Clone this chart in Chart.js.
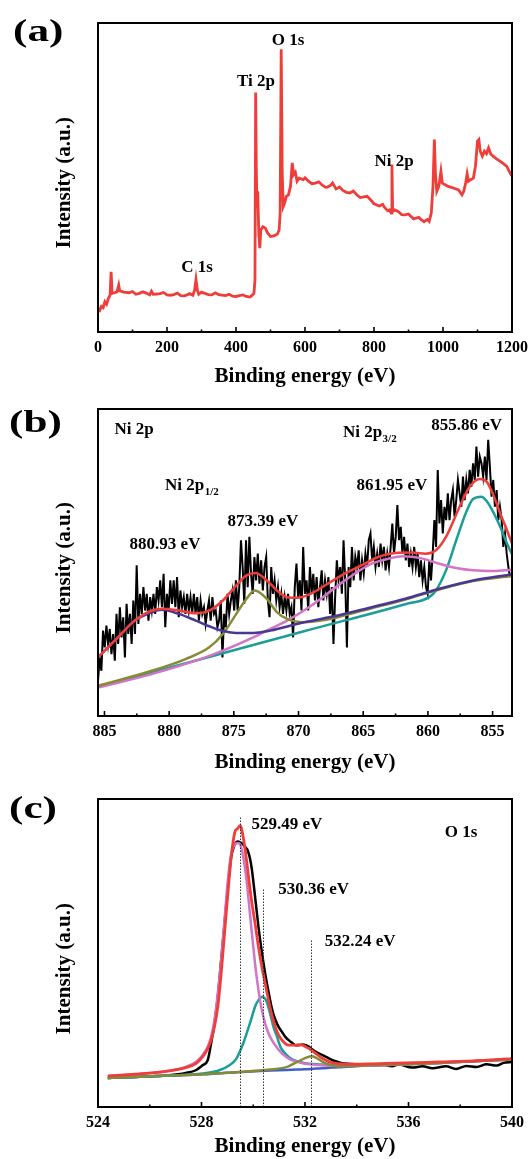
<!DOCTYPE html>
<html>
<head>
<meta charset="utf-8">
<script src="https://cdn.jsdelivr.net/npm/chart.js@4.4.0/dist/chart.umd.min.js"></script>
<style>
  html, body { margin: 0; padding: 0; background: #fff; }
  body { width: 531px; height: 1159px; position: relative; overflow: hidden; }
  canvas { position: absolute; left: 0; display: block; }
</style>
</head>
<body>
<canvas id="chartA" width="531" height="395" style="top:0px"></canvas>
<canvas id="chartB" width="531" height="390" style="top:395px"></canvas>
<canvas id="chartC" width="531" height="374" style="top:785px"></canvas>
<script>
// ---------- (a) survey spectrum ----------
const surveyEnergy = [0,5,10,15,20,25,30,35,38,41,48,55,60,63,75,90,100,110,120,130,140,150,155,160,170,180,190,200,210,220,230,240,250,260,265,275,280,284,288,292,300,310,320,330,340,350,360,370,380,390,400,410,420,430,440,445,452,455,457,459,461,463,466,469,472,478,485,492,500,510,520,525,528,531,534,537,541,546,552,558,563,567,572,577,583,595,600,610,620,630,640,650,660,665,675,680,690,700,710,720,730,740,750,760,770,780,790,800,810,815,825,830,840,845,850,852,854,860,870,875,880,890,900,905,915,920,930,935,945,950,955,960,966,971,975,978,982,988,994,998,1005,1015,1030,1045,1055,1060,1066,1070,1074,1080,1088,1094,1100,1104,1108,1114,1120,1126,1132,1138,1145,1155,1165,1175,1185,1192,1196,1200];
const surveyIntensity = [7.6,7.0,8.3,7.9,9.8,9.0,10.8,11.9,19.5,12.5,12.7,13.0,15.2,13.3,12.9,12.7,13.1,12.2,12.5,13.0,12.6,12.0,13.2,12.2,12.3,12.4,12.8,12.0,11.9,12.1,12.6,11.8,11.7,12.1,12.4,11.9,13.5,17.0,13.5,12.2,12.9,12.5,12.1,12.0,12.7,12.1,11.9,11.8,12.2,11.6,11.5,11.8,12.0,11.5,11.3,11.7,12.5,16.8,77.5,51.5,40.6,45.5,32.0,27.1,33.0,34.1,33.6,32.0,30.9,31.1,31.7,33.0,38.5,91.5,51.5,40.6,41.7,43.9,44.4,47.1,54.7,50.9,51.7,48.8,49.8,49.3,49.9,48.8,48.0,48.2,48.6,47.5,46.8,46.9,47.5,48.2,46.3,46.9,45.8,45.2,45.0,45.6,44.4,43.5,43.7,43.9,42.8,41.5,41.0,40.8,41.3,40.4,39.2,39.5,38.5,54.2,39.0,39.5,39.0,38.5,38.0,37.9,38.2,37.6,36.6,36.8,37.1,36.5,35.7,36.1,36.4,35.8,38.5,47.1,62.3,51.5,45.5,47.1,52.0,48.2,47.7,47.1,46.6,46.0,44.4,45.5,48.4,51.2,48.8,49.3,49.8,53.6,61.8,62.3,58.5,56.9,58.5,57.7,59.6,57.7,56.9,56.0,55.3,54.5,53.6,52.0,51.2,52.0];
const surveyMajorTicks = [0,200,400,600,800,1000,1200];
const surveyMinorTicks = [100,300,500,700,900,1100];

// ---------- (b) Ni 2p ----------
const niEnergy = [
885.50,885.37,885.24,885.11,884.98,884.85,884.72,884.59,884.46,884.33,
884.20,884.07,883.94,883.81,883.68,883.55,883.42,883.29,883.16,883.03,
882.90,882.77,882.64,882.51,882.38,882.25,882.12,881.99,881.86,881.73,
881.60,881.47,881.34,881.21,881.08,880.95,880.82,880.69,880.56,880.43,
880.30,880.17,880.04,879.91,879.78,879.65,879.52,879.39,879.26,879.13,
879.00,878.87,878.74,878.61,878.48,878.35,878.22,878.09,877.96,877.83,
877.70,877.57,877.44,877.31,877.18,877.05,876.92,876.79,876.66,876.53,
876.40,876.27,876.14,876.01,875.88,875.75,875.62,875.49,875.36,875.23,
875.10,874.97,874.84,874.71,874.58,874.45,874.32,874.19,874.06,873.93,
873.80,873.67,873.54,873.41,873.28,873.15,873.02,872.89,872.76,872.63,
872.50,872.37,872.24,872.11,871.98,871.85,871.72,871.59,871.46,871.33,
871.20,871.07,870.94,870.81,870.68,870.55,870.42,870.29,870.16,870.03,
869.90,869.77,869.64,869.51,869.38,869.25,869.12,868.99,868.86,868.73,
868.60,868.47,868.34,868.21,868.08,867.95,867.82,867.69,867.56,867.43,
867.30,867.17,867.04,866.91,866.78,866.65,866.52,866.39,866.26,866.13,
866.00,865.87,865.74,865.61,865.48,865.35,865.22,865.09,864.96,864.83,
864.70,864.57,864.44,864.31,864.18,864.05,863.92,863.79,863.66,863.53,
863.40,863.27,863.14,863.01,862.88,862.75,862.62,862.49,862.36,862.23,
862.10,861.97,861.84,861.71,861.58,861.45,861.32,861.19,861.06,860.93,
860.80,860.67,860.54,860.41,860.28,860.15,860.02,859.89,859.76,859.63,
859.50,859.37,859.24,859.11,858.98,858.85,858.72,858.59,858.46,858.33,
858.20,858.07,857.94,857.81,857.68,857.55,857.42,857.29,857.16,857.03,
856.90,856.77,856.64,856.51,856.38,856.25,856.12,855.99,855.86,855.73,
855.60,855.47,855.34,855.21,855.08,854.95,854.82,854.69,854.56,854.43,
854.30,854.17,854.04,853.91,853.78,853.65];
const niCounts = [
105,175,135,255,205,270,215,260,185,245,
165,305,215,325,235,295,175,335,245,305,
215,345,245,450,275,365,305,385,315,365,
285,355,315,365,305,385,345,405,325,425,
265,365,315,405,335,405,325,415,295,375,
325,355,305,365,315,355,305,365,305,355,
285,345,305,325,275,315,345,285,355,305,
315,265,285,345,175,305,265,365,305,345,
375,315,405,315,385,525,445,335,525,385,
535,425,365,475,405,485,395,465,375,445,
475,345,295,445,365,405,345,385,325,365,
305,355,315,365,305,325,235,385,455,355,
405,315,505,365,405,315,445,365,425,345,
415,325,385,435,345,405,365,415,305,385,
215,355,465,405,445,365,525,405,205,445,
385,505,405,475,445,495,405,465,425,485,
445,525,545,465,505,445,485,445,515,465,
505,435,485,445,505,575,485,535,630,525,
565,485,535,465,515,445,485,445,505,445,
485,415,465,405,445,385,365,465,405,485,
585,505,735,575,645,545,625,585,665,585,
645,675,595,645,705,665,625,715,645,705,
665,735,685,755,705,805,715,775,755,715,
775,705,825,745,655,705,625,675,585,625,
585,505,545,485,445,415];
const niFitEnergy1 = [885.5,877.42,869.58,861.74,859.90,859.38,858.60,857.81,857.03,856.51,855.86,855.46,854.94,854.41,853.89,853.5];
const niFit1 = [87,171,253,334,355,375,435,525,610,648,655,642,608,565,515,483];            // 855.86 eV
const niFitEnergy2 = [885.5,881.34,877.42,875.85,873.50,872.19,870.89,869.58,868.27,866.96,865.66,864.35,863.04,861.94,860.43,859.12,857.81,856.51,854.94,853.5];
const niFit2 = [85,125,172,195,235,260,285,315,350,390,425,455,470,477,470,455,442,435,433,437];   // 861.95 eV
const niFitEnergy3 = [885.5,881.34,878.73,876.90,875.85,874.81,874.02,873.39,872.45,871.67,870.89,869.58,868.27,866.96,864.35,861.74,859.12,856.51,853.5];
const niFit3 = [90,135,170,205,245,305,350,375,350,310,290,280,285,295,322,348,378,403,418];      // 873.39 eV
const niFitEnergy4 = [885.5,883.96,882.65,881.34,880.56,879.25,877.94,876.90,876.11,874.81,873.50,872.19,869.58,866.96,864.35,861.74,859.12,856.51,853.5];
const niFit4 = [175,235,285,310,317,305,285,268,257,248,248,255,280,300,325,350,380,405,423];    // 880.93 eV
const niEnvEnergy = [885.5,883.96,882.65,881.34,880.56,879.25,877.94,876.90,875.85,874.81,874.02,873.32,872.45,871.67,870.89,870.10,869.06,867.75,866.44,865.13,863.83,862.52,861.21,860.17,859.38,858.60,857.55,856.77,855.98,855.46,854.94,854.41,853.89,853.5];
const niEnvelope = [175,235,285,315,320,315,307,315,345,390,420,427,405,375,355,353,365,395,425,450,475,487,488,485,495,535,625,685,708,700,660,605,555,515];
const niMajorTicks = [885,880,875,870,865,860,855];
const niMinorTicks = [882.5,877.5,872.5,867.5,862.5,857.5];

// ---------- (c) O 1s ----------
const oEnergy = [524.38,525.42,526.08,526.73,527.39,527.78,528.04,528.24,528.37,528.50,528.63,528.76,528.89,529.02,529.15,529.28,529.41,529.54,529.67,529.80,529.93,530.07,530.20,530.33,530.46,530.59,530.72,530.85,530.98,531.11,531.24,531.37,531.50,531.63,531.76,531.90,532.03,532.16,532.29,532.42,532.55,532.68,532.81,532.94,533.07,533.27,533.53,533.92,534.58,534.97,535.36,535.62,536.14,536.54,536.93,537.45,537.84,538.24,538.63,539.02,539.41,539.67,540.00];
const oCounts = [87,90,92,95,102,110,125,140,190,250,330,440,550,660,750,785,795,790,780,765,720,630,540,465,400,345,295,262,240,225,210,200,192,185,185,187,185,180,172,165,160,155,150,145,140,135,130,128,124,128,122,127,118,122,116,122,114,123,120,128,124,132,135];
const oEnvEnergy = [524.38,525.42,526.08,526.73,527.39,527.78,528.04,528.24,528.37,528.50,528.63,528.76,528.89,529.02,529.15,529.28,529.41,529.49,529.54,529.67,529.80,529.93,530.07,530.20,530.33,530.46,530.59,530.72,530.85,530.98,531.11,531.24,531.37,531.50,531.63,531.76,531.90,532.03,532.16,532.29,532.42,532.55,532.68,532.81,532.94,533.07,533.27,533.92,534.58,535.88,537.19,538.50,540.00];
const oEnvelope = [93,98,102,108,118,130,150,175,200,240,300,400,520,640,750,820,835,842,835,780,700,620,550,480,420,370,320,275,240,215,200,190,185,185,185,187,185,180,175,168,160,152,145,140,135,132,130,128,129,132,135,138,145];
const oFitEnergy1 = [524.38,525.42,526.08,526.73,527.39,527.78,528.04,528.24,528.37,528.50,528.63,528.76,528.89,529.02,529.15,529.28,529.41,529.50,529.61,529.74,529.87,530.00,530.13,530.26,530.39,530.52,530.65,530.85,531.05,531.24,531.44,531.70,531.96,532.61,533.27,534.58,535.88,537.19,538.50,540.00];
const oFit1 = [92,97,102,108,120,135,155,180,210,260,340,440,560,680,760,785,790,785,750,680,580,480,390,320,270,235,210,185,165,152,142,135,130,125,123,124,128,132,137,142];   // 529.49 eV
const oFitEnergy2 = [524.38,525.42,526.73,528.04,528.69,529.08,529.35,529.61,529.87,530.07,530.20,530.35,530.52,530.65,530.78,530.92,531.05,531.18,531.37,531.57,531.96,532.61,533.27,534.58,535.88,537.19,538.50,540.00];
const oFit2 = [87,90,94,100,110,125,145,190,250,300,320,330,315,280,240,210,180,165,150,140,132,127,124,124,128,132,137,142];   // 530.36 eV
const oFitEnergy3 = [524.38,525.42,526.73,528.04,529.35,530.65,531.31,531.70,531.96,532.24,532.42,532.68,533.01,533.27,534.58,535.88,537.19,538.50,540.00];
const oFit3 = [87,90,94,98,104,112,120,135,145,152,148,135,125,122,125,128,132,137,142];   // 532.24 eV
const oBaseEnergy = [524.38,525.42,526.73,528.04,529.35,530.65,531.31,531.70,531.96,532.24,532.42,532.68,533.01,533.27,534.58,535.88,537.19,538.50,540.00];
const oBaseline = [87,90,94,98,104,109,111,112,113,114,115,116,118,119,125,128,132,137,142];
const oMajorTicks = [524,528,532,536,540];
const oMinorTicks = [526,530,534,538];
const oPeakCenters = [529.49,530.36,532.24];

// ---------- shared drawing helpers ----------
const SERIF = '"Liberation Serif", "Times New Roman", serif';
Chart.defaults.font.family = SERIF;
Chart.defaults.font.weight = 'bold';
Chart.defaults.color = '#000';

const pairs = (xs, ys) => xs.map((x, i) => ({x, y: ys[i]}));

// closed frame, inward tick marks, panel letter, text labels and marker lines
const figurePlugin = {
  id: 'figure',
  afterDatasetsDraw(chart, args, opts) {
    const {ctx, chartArea: a, scales: {x, y}} = chart;
    ctx.save();
    // dotted markers at the fitted peak centres
    (opts.markers || []).forEach(m => {
      const px = Math.round(x.getPixelForValue(m.x)) + 0.5;
      ctx.strokeStyle = '#333';
      ctx.lineWidth = 1;
      ctx.setLineDash([1.5, 1.5]);
      ctx.beginPath();
      ctx.moveTo(px, a.bottom);
      ctx.lineTo(px, y.getPixelForValue(m.top));
      ctx.stroke();
    });
    ctx.setLineDash([]);
    // frame
    ctx.strokeStyle = '#000';
    ctx.lineWidth = 2;
    ctx.strokeRect(a.left, a.top, a.right - a.left, a.bottom - a.top);
    // inward ticks on the energy axis
    ctx.lineWidth = 1.6;
    x.ticks.forEach(t => {
      const px = x.getPixelForValue(t.value);
      const len = opts.major.includes(t.value) ? 5 : 2.5;
      ctx.beginPath();
      ctx.moveTo(px, a.bottom);
      ctx.lineTo(px, a.bottom - len);
      ctx.stroke();
    });
    // peak labels
    ctx.fillStyle = '#000';
    ctx.textBaseline = 'middle';
    (opts.labels || []).forEach(l => {
      const px = x.getPixelForValue(l.x);
      const py = y.getPixelForValue(l.y);
      ctx.font = 'bold 17px ' + SERIF;
      const w = ctx.measureText(l.text).width;
      let sw = 0;
      if (l.sub) {
        ctx.font = 'bold 11px ' + SERIF;
        sw = ctx.measureText(l.sub).width;
        ctx.font = 'bold 17px ' + SERIF;
      }
      const left = l.align === 'left' ? px : px - (w + sw) / 2;
      ctx.textAlign = 'left';
      ctx.fillText(l.text, left, py);
      if (l.sub) {
        ctx.font = 'bold 11px ' + SERIF;
        ctx.fillText(l.sub, left + w + 0.5, py + 6);
      }
    });
    // panel letter
    ctx.translate(opts.panel.x, opts.panel.y);
    ctx.scale(1.2, 0.9);
    ctx.font = 'bold 36px ' + SERIF;
    ctx.textAlign = 'left';
    ctx.textBaseline = 'middle';
    ctx.fillText(opts.panel.text, 0, 0);
    ctx.restore();
  }
};

function buildChart(id, cfg) {
  const allTicks = cfg.major.concat(cfg.minor).sort((p, q) => p - q);
  // trailing spaces nudge the rotated axis title downwards along the frame
  const yTitle = 'Intensity (a.u.)' + '\u2002'.repeat(cfg.yTitleNudge || 0);
  // later datasets are painted over earlier ones
  const datasets = cfg.datasets.map((d, i, all) => Object.assign(d, { order: all.length - i }));
  return new Chart(document.getElementById(id), {
    type: 'line',
    data: { datasets },
    options: {
      responsive: false,
      animation: false,
      events: [],
      layout: { padding: { top: cfg.padTop, right: 19, left: 0, bottom: 0 } },
      elements: { point: { radius: 0 } },
      plugins: {
        legend: { display: false },
        tooltip: { enabled: false },
        figure: { major: cfg.major, labels: cfg.labels, markers: cfg.markers, panel: cfg.panel }
      },
      scales: {
        x: {
          type: 'linear',
          min: cfg.xmin, max: cfg.xmax,
          reverse: !!cfg.reverse,
          grid: { display: false },
          border: { display: false },
          afterBuildTicks: s => { s.ticks = allTicks.map(v => ({ value: v })); },
          afterFit: s => { s.height = cfg.xAxisHeight; },
          ticks: {
            autoSkip: false, maxRotation: 0, padding: -2,
            font: { size: 16, weight: 'bold' },
            callback: v => cfg.major.includes(v) ? String(v) : ''
          },
          title: {
            display: true, text: 'Binding energy (eV)',
            font: { size: 21, weight: 'bold' },
            padding: { top: 0, bottom: cfg.titlePad }
          }
        },
        y: {
          min: 0, max: cfg.ymax,
          grid: { display: false },
          border: { display: false },
          ticks: { display: false },
          afterFit: s => { s.width = 98; },
          title: {
            display: true, text: yTitle,
            font: { size: 21, weight: 'bold' },
            padding: { top: 52, bottom: 0 }
          }
        }
      }
    },
    plugins: [figurePlugin]
  });
}

const line = (data, color, width, smooth) => ({
  data, borderColor: color, borderWidth: width, pointRadius: 0,
  tension: smooth ? 0.4 : 0, cubicInterpolationMode: smooth ? 'monotone' : 'default',
  fill: false
});

const RED = '#ef3d3a', TEAL = '#1a9e97', PINK = '#d474c8', OLIVE = '#878a36', NAVY = '#4a3795', BLUE = '#3d5fc9';

// (a)
buildChart('chartA', {
  xmin: 0, xmax: 1200, ymax: 100, padTop: 23, xAxisHeight: 63, titlePad: 6, yTitleNudge: 1,
  major: surveyMajorTicks, minor: surveyMinorTicks,
  datasets: [line(pairs(surveyEnergy, surveyIntensity), RED, 2.8, false)],
  labels: [
    { text: 'O 1s', x: 551, y: 94.2 },
    { text: 'Ti 2p', x: 458, y: 80.9 },
    { text: 'C 1s', x: 287, y: 20.7 },
    { text: 'Ni 2p', x: 858, y: 55.3 }
  ],
  panel: { text: '(a)', x: 13, y: 33 }
});

// (b)
buildChart('chartB', {
  xmin: 853.5, xmax: 885.5, reverse: true, ymax: 917, padTop: 14, xAxisHeight: 69, titlePad: 10, yTitleNudge: 1,
  major: niMajorTicks, minor: niMinorTicks,
  datasets: [
    line(pairs(niEnergy, niCounts), '#000', 2, false),
    line(pairs(niFitEnergy1, niFit1), TEAL, 2.5, true),
    line(pairs(niFitEnergy2, niFit2), PINK, 2.5, true),
    line(pairs(niFitEnergy3, niFit3), OLIVE, 2.5, true),
    line(pairs(niFitEnergy4, niFit4), NAVY, 2.5, true),
    line(pairs(niEnvEnergy, niEnvelope), RED, 2.5, true)
  ],
  labels: [
    { text: 'Ni 2p', x: 884.22, y: 854, align: 'left' },
    { text: 'Ni 2p', sub: '3/2', x: 866.57, y: 845, align: 'left' },
    { text: '855.86 eV', x: 857.0, y: 866 },
    { text: 'Ni 2p', sub: '1/2', x: 880.32, y: 687, align: 'left' },
    { text: '861.95 eV', x: 862.78, y: 687 },
    { text: '873.39 eV', x: 872.75, y: 582 },
    { text: '880.93 eV', x: 880.32, y: 511 }
  ],
  panel: { text: '(b)', x: 9, y: 424 - 395 }
});

// (c)
buildChart('chartC', {
  xmin: 524, xmax: 540, ymax: 922, padTop: 14, xAxisHeight: 52, titlePad: 0, yTitleNudge: 3,
  major: oMajorTicks, minor: oMinorTicks,
  datasets: [
    line(pairs(oEnergy, oCounts), '#000', 2.5, true),
    line(pairs(oBaseEnergy, oBaseline), BLUE, 2.5, true),
    line(pairs(oFitEnergy2, oFit2), TEAL, 2.5, true),
    line(pairs(oFitEnergy1, oFit1), PINK, 2.5, true),
    line(pairs(oFitEnergy3, oFit3), OLIVE, 2.5, true),
    line(pairs(oEnvEnergy, oEnvelope), RED, 2.8, true)
  ],
  markers: [
    { x: oPeakCenters[0], top: 870 },
    { x: oPeakCenters[1], top: 655 },
    { x: oPeakCenters[2], top: 502 }
  ],
  labels: [
    { text: '529.49 eV', x: 531.30, y: 844 },
    { text: '530.36 eV', x: 532.33, y: 650 },
    { text: '532.24 eV', x: 534.13, y: 494 },
    { text: 'O 1s', x: 538.03, y: 820 }
  ],
  panel: { text: '(c)', x: 9, y: 810 - 785 }
});
</script>
</body>
</html>
